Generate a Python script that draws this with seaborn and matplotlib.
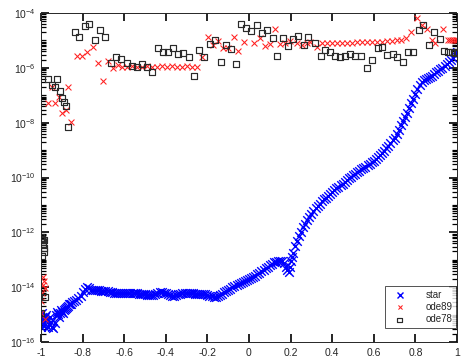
import numpy as np
import pandas as pd
import matplotlib
matplotlib.use('Agg')
import matplotlib.pyplot as plt
import seaborn as sns
from matplotlib.ticker import FixedLocator, LogLocator, LogFormatterMathtext, NullFormatter

# ── data (errors stored as log10 exponents) ───────────────────────────────────
# noisy start of the "star" curve, -1 .. -0.76
star_left_x = [-1.00, -1.00, -0.995, -0.99, -0.985, -0.98, -0.975, -0.97, -0.965, -0.96,
               -0.955, -0.95, -0.945, -0.94, -0.935, -0.93, -0.925, -0.92, -0.915, -0.91,
               -0.905, -0.90, -0.895, -0.89, -0.885, -0.88, -0.875, -0.87, -0.865, -0.86,
               -0.855, -0.85, -0.84, -0.83, -0.82, -0.81, -0.80, -0.79, -0.78, -0.77, -0.76]
star_left_exp = [-15.13, -15.45, -14.95, -15.28, -15.40, -15.09, -15.00, -15.20, -15.45, -15.35,
                 -15.10, -15.28, -15.45, -15.50, -15.30, -15.02, -14.90, -14.99, -15.10, -14.95,
                 -14.85, -14.91, -14.95, -14.84, -14.80, -14.77, -14.72, -14.69, -14.62, -14.62,
                 -14.60, -14.55, -14.51, -14.47, -14.40, -14.33, -14.18, -14.07, -14.00, -14.04, -14.11]
# rest of the "star" curve on a 0.01 grid, -0.75 .. 1.00
star_grid_x = np.round(np.arange(-0.75, 1.0001, 0.01), 2)
star_grid_exp = [-14.11, -14.11, -14.11, -14.11, -14.13, -14.15, -14.15, -14.15, -14.17, -14.18,
                 -14.20, -14.22, -14.22, -14.22, -14.22, -14.22, -14.22, -14.22, -14.22, -14.22,
                 -14.22, -14.22, -14.24, -14.26, -14.26, -14.26, -14.28, -14.29, -14.29, -14.27,
                 -14.24, -14.22, -14.19, -14.18, -14.20, -14.22, -14.26, -14.29, -14.32, -14.33,
                 -14.30, -14.26, -14.24, -14.22, -14.22, -14.22, -14.22, -14.22, -14.22, -14.24,
                 -14.26, -14.26, -14.26, -14.26, -14.26, -14.29, -14.31, -14.33, -14.35, -14.36,
                 -14.33, -14.29, -14.24, -14.18, -14.15, -14.11, -14.05, -14.00, -13.97, -13.93,
                 -13.89, -13.85, -13.82, -13.78, -13.75, -13.71, -13.68, -13.64, -13.59, -13.53,
                 -13.48, -13.42, -13.37, -13.31, -13.26, -13.20, -13.15, -13.09, -13.07, -13.05,
                 -13.04, -13.05, -13.12, -13.27, -13.45, -13.05, -12.75, -12.50, -12.30, -12.12,
                 -11.97, -11.82, -11.68, -11.55, -11.43, -11.32, -11.22, -11.12, -11.03, -10.95,
                 -10.87, -10.80, -10.73, -10.66, -10.60, -10.53, -10.47, -10.40, -10.34, -10.28,
                 -10.22, -10.15, -10.09, -10.03, -9.97, -9.92, -9.86, -9.81, -9.75, -9.70,
                 -9.65, -9.60, -9.55, -9.50, -9.45, -9.40, -9.34, -9.27, -9.19, -9.10,
                 -9.02, -8.93, -8.84, -8.75, -8.65, -8.55, -8.40, -8.25, -8.10, -7.95,
                 -7.80, -7.65, -7.48, -7.30, -7.12, -6.95, -6.78, -6.62, -6.50, -6.44,
                 -6.40, -6.37, -6.34, -6.30, -6.24, -6.17, -6.11, -6.05, -5.99, -5.92,
                 -5.85, -5.78, -5.71, -5.64, -5.53, -5.42]
# extra samples on the jump just after the dip near x = 0.19
star_jump_x = [0.185, 0.195, 0.205]
star_jump_exp = [-13.36, -13.25, -12.90]

ode89_x = [-1.000, -1.000, -0.995, -0.990, -0.990, -0.986, -0.981, -0.981,
           -0.966, -0.947, -0.933, -0.913, -0.899, -0.880, -0.870, -0.856,
           -0.827, -0.803, -0.779, -0.750, -0.726, -0.702, -0.678, -0.654, -0.630,
           -0.610, -0.586, -0.562, -0.538, -0.514, -0.490, -0.466, -0.442, -0.418,
           -0.394, -0.370, -0.346, -0.322, -0.298, -0.274, -0.250,
           -0.226, -0.197, -0.173, -0.149, -0.125, -0.101, -0.072, -0.053, -0.024,
           0.024, 0.053, 0.077, 0.101, 0.125, 0.149, 0.173, 0.197, 0.231, 0.255,
           0.279, 0.293, 0.327, 0.351, 0.375, 0.399, 0.423, 0.447, 0.471, 0.495,
           0.519, 0.543, 0.567, 0.591, 0.615, 0.639, 0.663, 0.687, 0.711, 0.730,
           0.755, 0.779, 0.808, 0.832, 0.856, 0.880, 0.894, 0.933,
           0.957, 0.966, 0.976, 0.986, 0.995, 1.000]
ode89_exp = [-14.51, -14.95, -14.22, -13.64, -13.93, -13.78, -14.04, -15.17,
             -7.28, -6.70, -7.28, -7.07, -7.65, -7.54, -6.70, -7.98,
             -5.57, -5.57, -5.42, -5.24, -5.82, -6.48, -5.75, -6.01, -5.90,
             -5.97, -5.97, -5.95, -5.97, -5.97, -5.95, -5.97, -5.97, -5.95,
             -5.97, -5.95, -5.97, -5.97, -5.95, -5.97, -5.97,
             -5.61, -4.88, -5.17, -5.02, -5.28, -5.28, -4.88, -5.39, -5.06,
             -5.09, -4.91, -5.20, -5.13, -4.58, -5.13, -5.09, -5.02, -5.09, -5.17,
             -5.09, -5.06, -5.24, -5.09, -5.09, -5.09, -5.09, -5.09, -5.09, -5.09,
             -5.07, -5.07, -5.06, -5.06, -5.05, -5.04, -5.03, -5.02, -5.00, -4.99,
             -4.91, -4.69, -4.18, -4.44, -4.58, -4.99, -5.09, -4.58,
             -4.97, -4.99, -4.97, -4.99, -4.97, -4.99]

ode78_x = [-1.000, -0.995, -0.990, -0.986, -0.990, -0.986, -0.986, -0.995, -0.981, -1.000,
           -0.966, -0.947, -0.923, -0.933, -0.909, -0.899, -0.889, -0.880, -0.870,
           -0.837, -0.817, -0.788, -0.769, -0.740, -0.716, -0.692,
           -0.663, -0.639, -0.615, -0.587, -0.563, -0.538, -0.514, -0.490, -0.466,
           -0.438, -0.413, -0.389, -0.365, -0.341, -0.317, -0.288, -0.264, -0.240,
           -0.216, -0.188, -0.163, -0.135, -0.111, -0.087, -0.062, -0.038, -0.014,
           0.010, 0.038, 0.063, 0.087, 0.115, 0.135, 0.163, 0.188, 0.212, 0.236,
           0.264, 0.284, 0.317, 0.346, 0.365, 0.389, 0.413, 0.438, 0.462, 0.486,
           0.510, 0.538, 0.567, 0.591, 0.620, 0.639, 0.663, 0.692, 0.712, 0.740,
           0.764, 0.788, 0.817, 0.837, 0.865, 0.889, 0.918, 0.938, 0.957, 0.976,
           0.990, 1.000]
ode78_exp = [-12.18, -12.25, -12.36, -12.28, -12.43, -12.58, -12.69, -12.87, -14.36, -14.95,
             -6.41, -6.63, -6.41, -6.70, -6.85, -7.10, -7.25, -7.39, -8.16,
             -4.69, -4.88, -4.47, -4.40, -4.99, -4.62, -4.88,
             -5.82, -5.61, -5.68, -5.82, -5.93, -5.97, -5.86, -5.97, -6.15,
             -5.28, -5.42, -5.42, -5.28, -5.50, -5.46, -5.61, -6.30, -5.35,
             -5.61, -5.13, -4.99, -5.79, -5.17, -5.31, -5.86, -4.40, -4.55,
             -4.66, -4.44, -4.73, -4.62, -4.91, -5.57, -4.91, -5.20, -4.95, -4.84,
             -5.17, -4.88, -5.09, -5.57, -5.35, -5.42, -5.57, -5.61, -5.57, -5.50,
             -5.57, -5.57, -6.01, -5.72, -5.28, -5.24, -5.53, -5.50, -5.61, -5.79,
             -5.42, -5.42, -4.62, -4.44, -5.17, -4.69, -4.95, -5.39, -5.42, -5.42,
             -5.46, -5.42]

star = pd.DataFrame({'x': np.concatenate([star_left_x, star_grid_x, star_jump_x]),
                     'err': np.power(10.0, np.concatenate([star_left_exp, star_grid_exp, star_jump_exp]))})
ode89 = pd.DataFrame({'x': ode89_x, 'err': np.power(10.0, ode89_exp)})
ode78 = pd.DataFrame({'x': ode78_x, 'err': np.power(10.0, ode78_exp)})

# ── plot ──────────────────────────────────────────────────────────────────────
sns.set_style('ticks')
plt.rcParams['font.family'] = ['Liberation Sans', 'DejaVu Sans']
plt.rcParams['mathtext.fontset'] = 'custom'
plt.rcParams['mathtext.rm'] = 'Liberation Sans'

fig = plt.figure(figsize=(4.62, 3.58), dpi=100)
ax = fig.add_axes([41 / 462, 1 - 342 / 358, 416 / 462, 329 / 358])

sns.scatterplot(data=star, x='x', y='err', ax=ax, marker='x', color='#0000ff',
                s=38, linewidth=1.0, label='star')
sns.scatterplot(data=ode89, x='x', y='err', ax=ax, marker='x', color='#ff2020',
                s=18, linewidth=0.75, label='ode89')
sns.scatterplot(data=ode78, x='x', y='err', ax=ax, marker='s', facecolor='none',
                edgecolor='#2a2a2a', s=22, linewidth=0.85, label='ode78')

ax.set_yscale('log')
ax.set_xlim(-1, 1)
ax.set_ylim(1e-16, 1e-4)
ax.set_xlabel('')
ax.set_ylabel('')

ax.set_xticks(np.arange(-1, 1.01, 0.2))
ax.set_xticklabels(['-1', '-0.8', '-0.6', '-0.4', '-0.2', '0', '0.2', '0.4', '0.6', '0.8', '1'])
ax.yaxis.set_major_locator(FixedLocator([1e-16, 1e-14, 1e-12, 1e-10, 1e-8, 1e-6, 1e-4]))
ax.yaxis.set_major_formatter(LogFormatterMathtext())
ax.yaxis.set_minor_locator(LogLocator(base=10, subs=np.arange(1, 10), numticks=200))
ax.yaxis.set_minor_formatter(NullFormatter())

# MATLAB-like inward ticks on all four sides
ax.tick_params(axis='both', which='major', direction='in', top=True, right=True,
               length=6, width=1.2, color='black',
               labelsize=7.5, labelcolor='#262626', pad=4)
ax.tick_params(axis='y', which='minor', direction='in', left=True, right=True,
               length=3.5, width=0.9, color='black')
for sp in ax.spines.values():
    sp.set_color('#262626')
    sp.set_linewidth(0.7)

leg = ax.legend(loc='lower right', bbox_to_anchor=(0.998, 0.043), borderaxespad=0,
                fontsize=7, frameon=True, fancybox=False, edgecolor='#262626', markerscale=0.7,
                handletextpad=1.6, handlelength=2.2, borderpad=0.35, labelspacing=0.25)
leg.get_frame().set_linewidth(0.7)

plt.savefig('out.png', dpi=100)
plt.close()
